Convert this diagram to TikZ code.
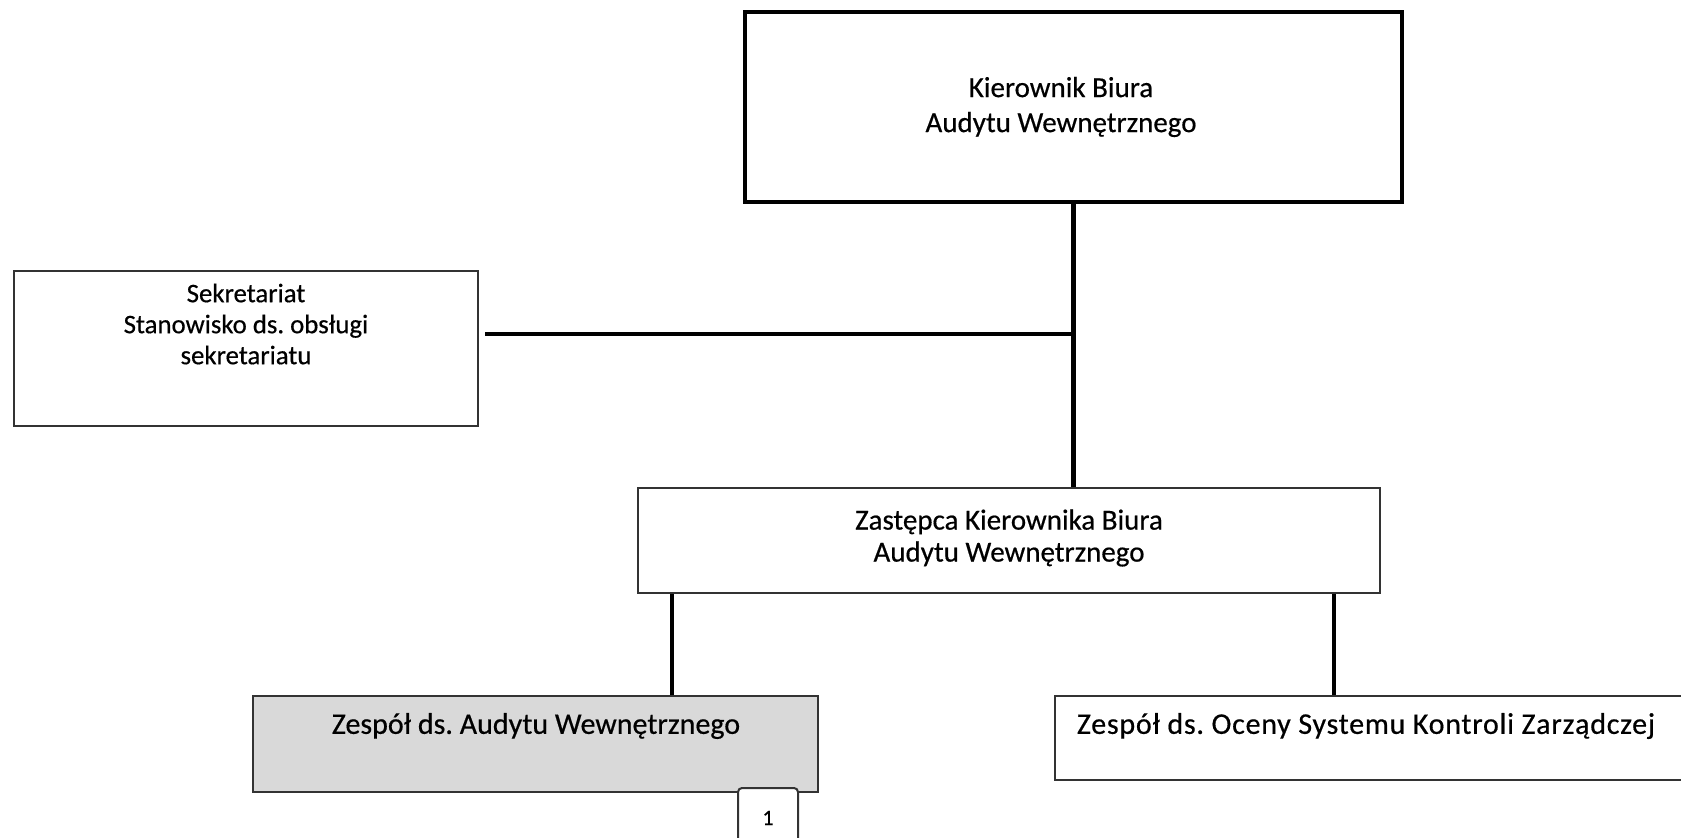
\documentclass[tikz,border=0pt]{standalone}
\usepackage{fontspec}
\setmainfont{Carlito}[UprightFeatures={FakeBold=0.5}]
\frenchspacing
\begin{document}
\begin{tikzpicture}[x=0.5pt,y=-0.5pt,
  box/.style={draw=black!80, line width=1pt, rectangle, inner sep=0pt, fill=white},
  thickbox/.style={box, draw=black, line width=2.2pt},
  conn/.style={draw=black, line width=2.2pt},
  txt/.style={align=center, font=\fontsize{14.5}{16}\selectfont, inner sep=0pt, text=black}]
\clip (0,0) rectangle (1681,838);
\fill[white] (0,0) rectangle (1681,838);
% boxes
\node[thickbox, minimum width=328.5pt, minimum height=95pt] (top) at (1073.5,107) {};
\node[box, minimum width=232pt, minimum height=77.5pt] (sek) at (246,348.5) {};
\node[box, minimum width=371pt, minimum height=52.5pt] (zast) at (1009,540.5) {};
\node[box, fill=black!15, minimum width=282.5pt, minimum height=48pt] (zaw) at (535.5,744) {};
\node[box, minimum width=332.5pt, minimum height=42pt] (zoc) at (1387.5,738) {};
\node[box, rounded corners=2pt, minimum width=30pt, minimum height=36pt] (one) at (768,824) {};
% texts
\node[txt, font=\fontsize{14.5}{17.5}\selectfont] (topt) at (1061,107) {Kierownik Biura\\Audytu Wewnętrznego};
\node[txt, font=\fontsize{13.4}{15.5}\selectfont] (sekt) at (246,324) {Sekretariat\\Stanowisko ds. obsługi\\sekretariatu};
\node[txt] (zastt) at (1009,538) {Zastępca Kierownika Biura\\Audytu Wewnętrznego};
\node[txt, font=\fontsize{15}{17}\selectfont] (zawt) at (536,726) {Zespół ds. Audytu Wewnętrznego};
\node[txt, font=\fontsize{15}{17}\selectfont\addfontfeature{LetterSpace=2.5,FakeBold=0.5}] (zoct) at (1366,726) {Zespół ds. Oceny Systemu Kontroli Zarządczej};
\node[txt, font=\fontsize{11}{13}\selectfont] (onet) at (768,818) {1};
% connectors
\coordinate (hs) at (485,334);
\coordinate (lx) at (672,600);
\coordinate (rx) at (1334,600);
\draw[conn] (top.south) -- (top.south |- zast.north);
\draw[conn] (hs) -- (hs -| top.south);
\draw[conn] (zast.south -| lx) -- (zaw.north -| lx);
\draw[conn] (zast.south -| rx) -- (zoc.north -| rx);
\end{tikzpicture}
\end{document}
